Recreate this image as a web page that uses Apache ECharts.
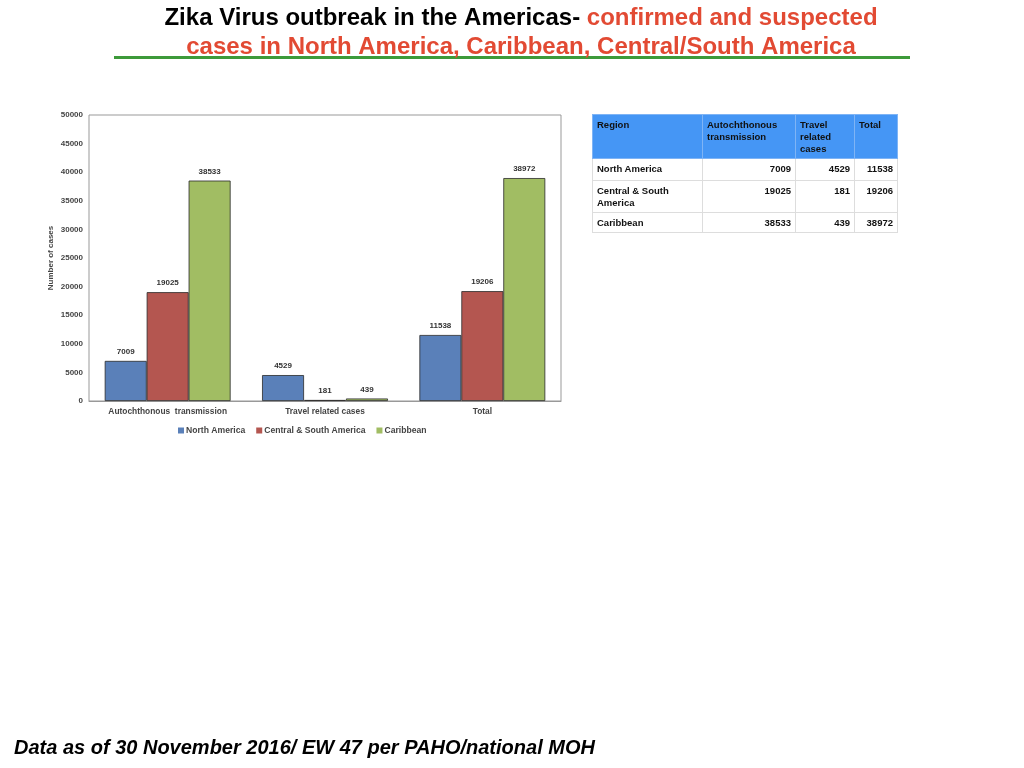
<!DOCTYPE html>
<html>
<head>
<meta charset="utf-8">
<script src="https://cdn.jsdelivr.net/npm/echarts@6/dist/echarts.min.js"></script>
<style>
html,body{margin:0;padding:0;background:#fff;}
#chart{position:absolute;left:0;top:0;width:1024px;height:768px;}
#tbl{position:absolute;left:592px;top:114px;border-collapse:collapse;font-family:"Liberation Sans",Arial,sans-serif;font-weight:bold;font-size:9.5px;color:#111;}
#tbl td{border:1px solid #ddd;vertical-align:top;padding:4px 4px 3px 4px;line-height:12px;box-sizing:border-box;}
#tbl tr.h td{background:#4596f5;border-color:#7fb4f5;}
#tbl td.n{text-align:right;}
</style>
</head>
<body>
<div id="chart"></div>
<table id="tbl"></table>
<script>
const categories = ['Autochthonous  transmission', 'Travel related cases', 'Total'];
const seriesNames = ['North America', 'Central & South America', 'Caribbean'];
const northAmerica = [7009, 4529, 11538];
const centralSouthAmerica = [19025, 181, 19206];
const caribbean = [38533, 439, 38972];
const tableHeader = ['Region', 'Autochthonous<br>transmission', 'Travel<br>related<br>cases', 'Total'];
const tableRegions = ['North America', 'Central &amp; South<br>America', 'Caribbean'];
const colors = ['#5a80b9', '#b45650', '#a1bd63'];

// table
const colW = [110, 93, 59, 43];
const rowH = [44, 22, 32, 19];
const rows = [northAmerica, centralSouthAmerica, caribbean];
let html = '<tr class="h" style="height:' + rowH[0] + 'px">' + tableHeader.map((h, i) => '<td style="width:' + colW[i] + 'px">' + h + '</td>').join('') + '</tr>';
rows.forEach((r, i) => {
  html += '<tr style="height:' + rowH[i + 1] + 'px"><td>' + tableRegions[i] + '</td>' + r.map(v => '<td class="n">' + v + '</td>').join('') + '</tr>';
});
document.getElementById('tbl').innerHTML = html;

const chart = echarts.init(document.getElementById('chart'));
const FONT = 'Liberation Sans, Arial';
const labelStyle = {show: true, position: 'top', distance: 5, fontSize: 8, fontWeight: 'bold', color: '#333', fontFamily: FONT};
const dataSets = [northAmerica, centralSouthAmerica, caribbean];
chart.setOption({
  animation: false,
  title: [{
    text: '{b|Zika Virus outbreak in the Americas- }{r|confirmed and suspected}\n{r|cases in North America, Caribbean, Central/South America}',
    left: 516, top: -1, textAlign: 'center',
    textStyle: {
      fontFamily: FONT, fontWeight: 'bold', fontSize: 24, lineHeight: 29,
      rich: {
        b: {color: '#000', fontFamily: FONT, fontWeight: 'bold', fontSize: 24, lineHeight: 29},
        r: {color: '#e24a33', fontFamily: FONT, fontWeight: 'bold', fontSize: 24, lineHeight: 29}
      }
    }
  }, {
    text: 'Data as of 30 November 2016/ EW 47 per PAHO/national MOH',
    left: 9, top: 733,
    textStyle: {fontFamily: FONT, fontWeight: 'bold', fontStyle: 'italic', fontSize: 20, color: '#000'}
  }],
  graphic: [{
    type: 'rect', shape: {x: 114, y: 56, width: 796, height: 3}, style: {fill: '#3d9a3a'}
  }],
  legend: {
    data: seriesNames, left: 178, top: 426, padding: 0, itemWidth: 6, itemHeight: 6, itemGap: 11,
    icon: 'rect',
    itemStyle: {borderWidth: 0},
    textStyle: {fontSize: 8.6, fontWeight: 'bold', color: '#444', fontFamily: FONT, padding: [0, 0, 0, -3]}
  },
  grid: {left: 89, top: 115, width: 472, height: 286, show: true, borderColor: '#999', borderWidth: 1, containLabel: false},
  xAxis: {
    type: 'category', data: categories,
    axisLine: {show: true, lineStyle: {color: '#999'}}, axisTick: {show: false},
    axisLabel: {fontSize: 8.4, fontWeight: 'bold', color: '#444', margin: 7, fontFamily: FONT}
  },
  yAxis: {
    type: 'value', min: 0, max: 50000, interval: 5000,
    name: 'Number of cases', nameLocation: 'middle', nameGap: 34, nameRotate: 90,
    nameTextStyle: {fontSize: 8, fontWeight: 'bold', color: '#444', fontFamily: FONT},
    axisLine: {show: false}, axisTick: {show: false}, splitLine: {show: false},
    axisLabel: {fontSize: 8, fontWeight: 'bold', color: '#444', margin: 6, fontFamily: FONT, formatter: v => String(v)}
  },
  series: seriesNames.map((n, i) => ({
    name: n, type: 'bar', data: dataSets[i], barGap: '0%', barCategoryGap: '20%',
    itemStyle: {color: colors[i], borderColor: '#2a2a2a', borderWidth: 0.8},
    label: labelStyle
  }))
});
</script>
</body>
</html>
